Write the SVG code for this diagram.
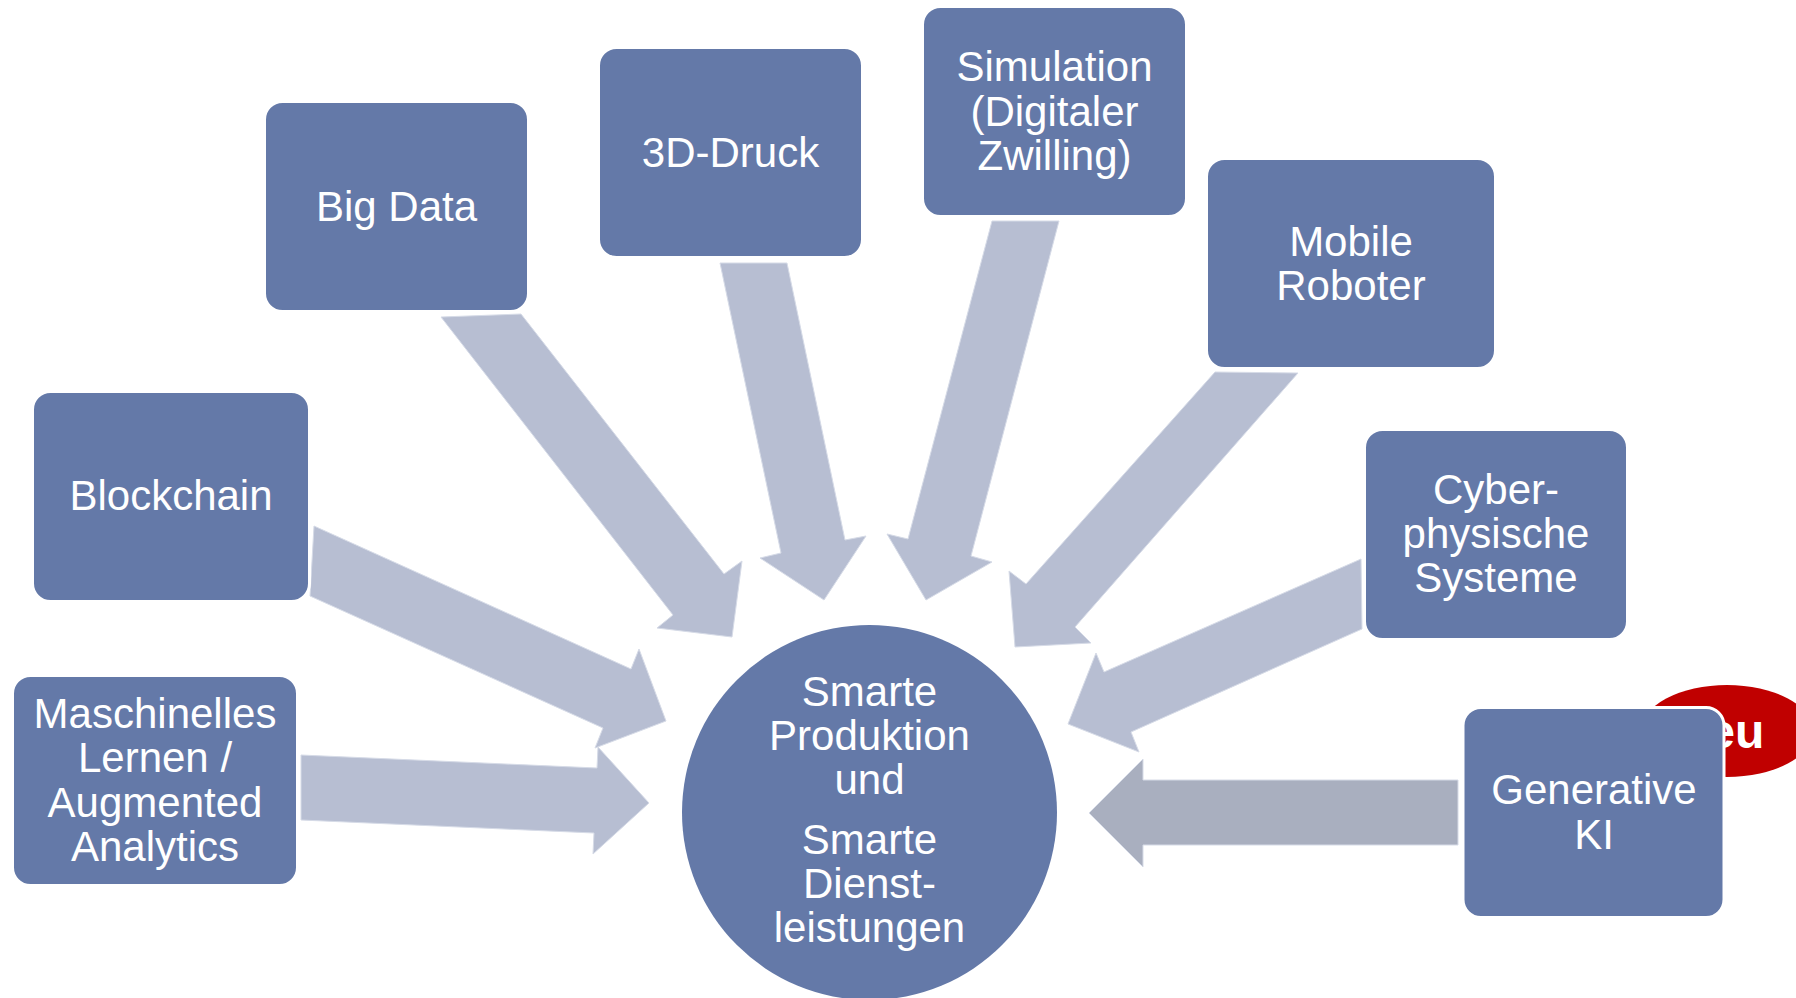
<svg xmlns="http://www.w3.org/2000/svg" width="1796" height="998" viewBox="0 0 1796 998">
<style>
.box{fill:#6479A8;stroke:#FFFFFF;stroke-width:3}
.arr{fill:#B7BED2;stroke:#D6DBE7;stroke-width:1;stroke-linejoin:miter}
.arr2{fill:#A9AFBF;stroke:#D6DBE7;stroke-width:1}
.t{font-family:"Liberation Sans",Arial,sans-serif;font-size:42px;fill:#FFFFFF;text-anchor:middle}
.neu{font-family:"Liberation Sans",Arial,sans-serif;font-size:48px;font-weight:bold;fill:#FFFFFF;text-anchor:middle}
</style>
<rect width="1796" height="998" fill="#FFFFFF"/>
<g id="connectors">
<polygon class="arr" points="441,317 521,314 724,574 742,561 732,637 657,628 673,615"/>
<polygon class="arr" points="720,263 787,263 845,540 866,536 824,600 760,558 781,553"/>
<polygon class="arr" points="992,221 1059,221 971,556 992,562 926,600 887,534 908,539"/>
<polygon class="arr" points="1215,372 1298,373 1075,627 1091,643 1015,647 1009,571 1026,584"/>
<polygon class="arr" points="314,526 631,669 639,649 666,721 595,748 603,728 310,596"/>
<polygon class="arr" points="301,755 597,768 598,747 649,803 593,854 594,833 301,820"/>
<polygon class="arr" points="1361,559 1362,629 1131,732 1139,752 1068,724 1096,653 1104,672"/>
<polygon class="arr2" points="1458,780 1143,780 1143,759 1089,813 1143,867 1143,845 1458,845"/>
</g>
<g id="center">
<circle cx="869.5" cy="812.5" r="187.5" fill="#6479A8"/>
<text class="t" x="869.5" y="706">Smarte</text>
<text class="t" x="869.5" y="750">Produktion</text>
<text class="t" x="869.5" y="794">und</text>
<text class="t" x="869.5" y="854">Smarte</text>
<text class="t" x="869.5" y="898">Dienst-</text>
<text class="t" x="869.5" y="942">leistungen</text>
</g>
<g id="bigdata">
<rect class="box" x="264.5" y="101.5" width="264" height="210" rx="18"/>
<text class="t" x="396.5" y="221">Big Data</text>
</g>
<g id="druck3d">
<rect class="box" x="598.5" y="47.5" width="264" height="210" rx="18"/>
<text class="t" x="730.5" y="167">3D-Druck</text>
</g>
<g id="simulation">
<rect class="box" x="922.5" y="6.5" width="264" height="210" rx="18"/>
<text class="t" x="1054.5" y="81">Simulation</text>
<text class="t" x="1054.5" y="126">(Digitaler</text>
<text class="t" x="1054.5" y="170">Zwilling)</text>
</g>
<g id="mobile">
<rect class="box" x="1206.5" y="158.5" width="289" height="210" rx="18"/>
<text class="t" x="1351" y="256">Mobile</text>
<text class="t" x="1351" y="300">Roboter</text>
</g>
<g id="blockchain">
<rect class="box" x="32.5" y="391.5" width="277" height="210" rx="18"/>
<text class="t" x="171" y="510">Blockchain</text>
</g>
<g id="cyber">
<rect class="box" x="1364.5" y="429.5" width="263" height="210" rx="18"/>
<text class="t" x="1496" y="504">Cyber-</text>
<text class="t" x="1496" y="548">physische</text>
<text class="t" x="1496" y="592">Systeme</text>
</g>
<g id="ml">
<rect class="box" x="12.5" y="675.5" width="285" height="210" rx="18"/>
<text class="t" x="155" y="728">Maschinelles</text>
<text class="t" x="155" y="772">Lernen /</text>
<text class="t" x="155" y="817">Augmented</text>
<text class="t" x="155" y="861">Analytics</text>
</g>
<g id="neu">
<ellipse cx="1727" cy="731" rx="86" ry="46" fill="#C00000"/>
<text class="neu" x="1719" y="748">Neu</text>
</g>
<g id="genki">
<rect class="box" x="1463" y="707.5" width="261" height="210" rx="18"/>
<text class="t" x="1594" y="804">Generative</text>
<text class="t" x="1594" y="849">KI</text>
</g>
</svg>
